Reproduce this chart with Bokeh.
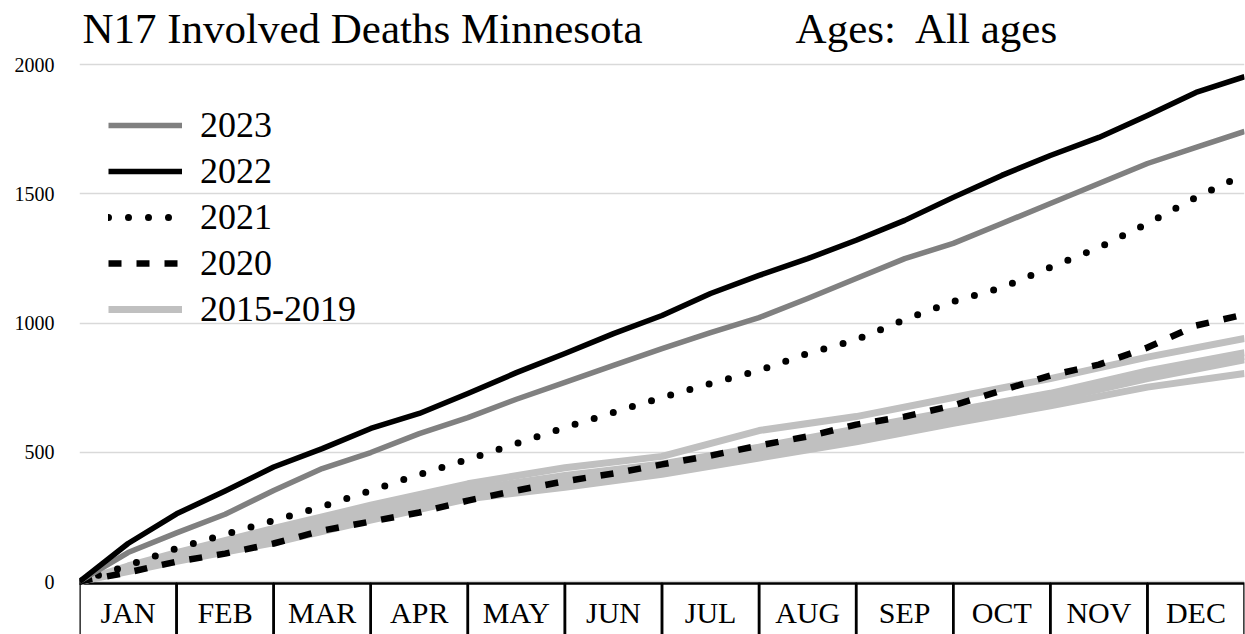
from bokeh.plotting import figure
from bokeh.models import Range1d, FixedTicker, Legend, LegendItem, Label
from bokeh.core.properties import value
from bokeh.embed import file_html
from bokeh.resources import INLINE

FONT = "Liberation Serif"

# x positions in months (0 = Jan 1, 12 = Dec 31)
x_half = [0, 0.5, 1, 1.5, 2, 2.5, 3, 3.5, 4, 4.5, 5, 5.5, 6, 6.5, 7, 7.5, 8, 8.5, 9, 9.5, 10, 10.5, 11, 11.5, 12]
x_month = [0, 0.5, 1, 2, 3, 4, 5, 6, 7, 8, 9, 10, 11, 12]

y2022 = [0, 147, 262, 350, 443, 514, 592, 650, 727, 808, 882, 959, 1029, 1114, 1184, 1249, 1320, 1397, 1486, 1571, 1648, 1718, 1803, 1892, 1953]
y2023 = [0, 112, 188, 260, 352, 437, 499, 572, 634, 705, 770, 836, 901, 963, 1021, 1095, 1172, 1249, 1308, 1385, 1462, 1540, 1617, 1679, 1741]
y2021 = [0, 62, 128, 182, 236, 290, 352, 414, 472, 534, 596, 654, 712, 766, 816, 882, 935, 1013, 1083, 1137, 1215, 1292, 1385, 1486, 1575]
y2020 = [0, 35, 77, 108, 147, 197, 232, 267, 313, 352, 388, 418, 453, 487, 526, 561, 607, 638, 681, 739, 797, 839, 905, 990, 1033]

base_a = [0, 60, 112, 205, 295, 378, 440, 484, 584, 638, 712, 785, 868, 940]
base_b = [0, 52, 100, 185, 272, 355, 410, 455, 520, 590, 660, 728, 815, 885]
base_c = [0, 48, 92, 175, 260, 340, 395, 440, 505, 575, 645, 715, 800, 870]
base_d = [0, 42, 85, 165, 250, 330, 380, 425, 490, 560, 630, 700, 785, 858]
base_e = [0, 38, 78, 150, 238, 320, 365, 415, 478, 540, 612, 680, 752, 805]
baselines = [base_a, base_b, base_c, base_d, base_e]

months = ["JAN", "FEB", "MAR", "APR", "MAY", "JUN", "JUL", "AUG", "SEP", "OCT", "NOV", "DEC"]
y_ticks = [0, 500, 1000, 1500, 2000]

title_left = "N17 Involved Deaths Minnesota"
title_right = "Ages:\u00a0 All ages"

p = figure(width=1245, height=634, x_range=Range1d(0, 12), y_range=Range1d(-205, 2247.6),
           output_backend="svg", toolbar_location=None, x_axis_type=None,
           min_border_left=79, min_border_right=1, min_border_top=0, min_border_bottom=0)
p.outline_line_color = None
p.background_fill_color = "white"
p.border_fill_color = "white"

ax = p.yaxis[0]
ax.ticker = FixedTicker(ticks=y_ticks)
ax.axis_line_color = None
ax.major_tick_line_color = None
ax.minor_tick_line_color = None
ax.major_label_text_font = FONT
ax.major_label_text_font_size = "20px"
ax.major_label_text_color = "black"
ax.major_label_standoff = 19
p.ygrid.ticker = FixedTicker(ticks=y_ticks)
p.ygrid.grid_line_color = "#d9d9d9"
p.ygrid.grid_line_width = 1.5

# month boxes
mi = list(range(len(months)))
p.quad(left=mi, right=[i + 1 for i in mi], top=-8, bottom=-400,
       fill_alpha=0, line_color="black", line_width=2.5)
p.text(x=[i + 0.5 for i in mi], y=-120, text=months, text_align="center",
       text_baseline="middle", text_font=value(FONT), text_font_size="30px",
       text_color="black")

base_renderers = []
for b in baselines:
    r = p.line(x_month, b, line_color="#c0c0c0", line_width=7, line_join="round")
    base_renderers.append(r)
r2020 = p.line(x_half, y2020, line_color="black", line_width=6.5, line_dash="13 15")
r2021 = p.line(x_half, y2021, line_color="black", line_width=7, line_dash="0 20", line_cap="round")
r2023 = p.line(x_half, y2023, line_color="#808080", line_width=5.5, line_join="round")
r2022 = p.line(x_half, y2022, line_color="black", line_width=5.5, line_join="round")

legend = Legend(items=[
    LegendItem(label="2023", renderers=[r2023]),
    LegendItem(label="2022", renderers=[r2022]),
    LegendItem(label="2021", renderers=[r2021]),
    LegendItem(label="2020", renderers=[r2020]),
    LegendItem(label="2015-2019", renderers=[base_renderers[0]]),
], location=(29, 302))
legend.border_line_color = None
legend.background_fill_alpha = 0
legend.padding = 0
legend.margin = 0
legend.spacing = 0
legend.glyph_width = 74
legend.glyph_height = 46
legend.label_height = 46
legend.label_standoff = 18
legend.label_text_font = FONT
legend.label_text_font_size = "36px"
legend.label_text_color = "black"
p.add_layout(legend, "center")

p.add_layout(Label(x=0.03, y=2139, text=title_left, text_font=FONT, text_font_size="43px",
                   text_color="black", text_baseline="alphabetic"))
p.add_layout(Label(x=7.376, y=2139, text=title_right, text_font=FONT, text_font_size="43px",
                   text_color="black", text_baseline="alphabetic"))

open("out.html", "w").write(file_html(p, INLINE))
